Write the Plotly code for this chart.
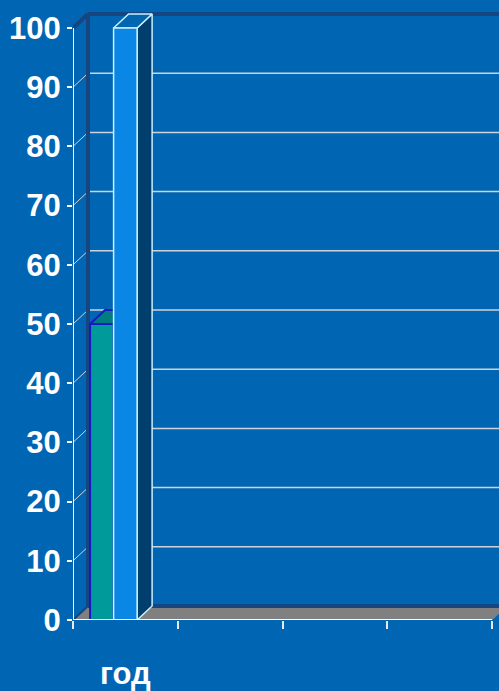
import plotly.graph_objects as go

# ---- data ----
categories = ["год", "", "", ""]
series_teal = [50, None, None, None]
series_blue = [100, None, None, None]
y_tick_values = [0, 10, 20, 30, 40, 50, 60, 70, 80, 90, 100]

# ---- styling / geometry ----
BG = "#0066b3"
PX_X = 104.75          # pixels per category unit
PX_Y = 5.92            # pixels per value unit
DX = 15 / PX_X         # 3D depth offset (x units)
DY = 14 / PX_Y         # 3D depth offset (y units)
N = len(categories)
XMAX = 426 / PX_X
YMAX = 620 / PX_Y
BAR_START = 0.163
BAR_W = 0.2245
DARK_EDGE = "#17457f"
GRID = "#cfd3d8"

fig = go.Figure()


def poly(xs, ys, fill, line_color, line_width):
    fig.add_trace(go.Scatter(
        x=xs + [xs[0]], y=ys + [ys[0]], mode="lines", fill="toself",
        fillcolor=fill, line=dict(color=line_color, width=line_width),
        hoverinfo="skip", showlegend=False, cliponaxis=False))


def seg(xs, ys, color, width):
    fig.add_trace(go.Scatter(
        x=xs, y=ys, mode="lines", line=dict(color=color, width=width),
        hoverinfo="skip", showlegend=False, cliponaxis=False))


# floor
poly([0, N, N + DX, DX], [0, 0, DY, DY], "#808080", "#808080", 0.5)
seg([DX, N + DX], [DY, DY], DARK_EDGE, 4)

# gridlines on back wall and left wall diagonals
for v in y_tick_values[1:-1]:
    seg([DX, N + DX], [v + DY, v + DY], GRID, 1.5)
    seg([0, DX], [v, v + DY], GRID, 1)

# wall edges
top = y_tick_values[-1]
seg([DX, N + DX], [top + DY, top + DY], DARK_EDGE, 4)
seg([DX, DX], [DY, top + DY], DARK_EDGE, 4)
seg([0, DX], [top, top + DY], DARK_EDGE, 4)
seg([0, DX], [0, DY], DARK_EDGE, 2)

# bars
for i in range(N):
    a = series_teal[i]
    b = series_blue[i]
    x0 = i + BAR_START
    x1 = x0 + BAR_W
    x2 = x1 + BAR_W
    if a is not None:
        oc = "#1818c8"
        poly([x1, x1 + DX, x1 + DX, x1], [0, DY, a + DY, a], "#006a6a", oc, 2)
        poly([x0, x1, x1 + DX, x0 + DX], [a, a, a + DY, a + DY], "#007d80", oc, 2)
        poly([x0, x1, x1, x0], [0, 0, a, a], "#009a9a", oc, 2)
    if b is not None:
        oc = "#c8f0ff"
        poly([x2, x2 + DX, x2 + DX, x2], [0, DY, b + DY, b], "#003e6e", oc, 1.5)
        poly([x1, x2, x2 + DX, x1 + DX], [b, b, b + DY, b + DY], "#0066b0", oc, 1.5)
        poly([x1, x2, x2, x1], [0, 0, b, b], "#0a86e4", oc, 1.5)

# front axis lines
seg([0, 0], [0, top], "white", 2)
seg([0, N], [0, 0], "white", 2)

# invisible trace on category-label axis
fig.add_trace(go.Scatter(x=[0.5], y=[0], xaxis="x2", mode="markers",
                         marker=dict(opacity=0), hoverinfo="skip",
                         showlegend=False))

fig.update_layout(
    width=499, height=691,
    margin=dict(l=73, r=0, t=0, b=71, pad=0),
    paper_bgcolor=BG, plot_bgcolor=BG,
    showlegend=False,
    xaxis=dict(range=[0, XMAX], tickvals=list(range(N + 1)),
               ticktext=[""] * (N + 1), ticks="outside", ticklen=8,
               tickwidth=2, tickcolor="#e8e8e8", showgrid=False,
               zeroline=False, showline=False, fixedrange=True,
               automargin=False),
    xaxis2=dict(range=[0, XMAX], overlaying="x", anchor="y", side="bottom",
                tickvals=[i + 0.5 for i in range(N)], ticktext=categories,
                ticks="", showgrid=False, zeroline=False, showline=False,
                ticklabelstandoff=32, automargin=False,
                tickfont=dict(family="Liberation Sans, Arial", size=31,
                              color="white", weight="bold"),
                fixedrange=True),
    yaxis=dict(range=[0, YMAX], tickvals=y_tick_values, ticks="outside",
               ticklen=5, tickwidth=2, tickcolor="white", showgrid=False,
               zeroline=False, showline=False, fixedrange=True,
               automargin=False,
               tickfont=dict(family="Liberation Sans, Arial",
                             size=31, color="white", weight="bold")),
)

fig.write_html("out.html", config={"displayModeBar": False},
               post_script="document.body.style.margin='0';")
